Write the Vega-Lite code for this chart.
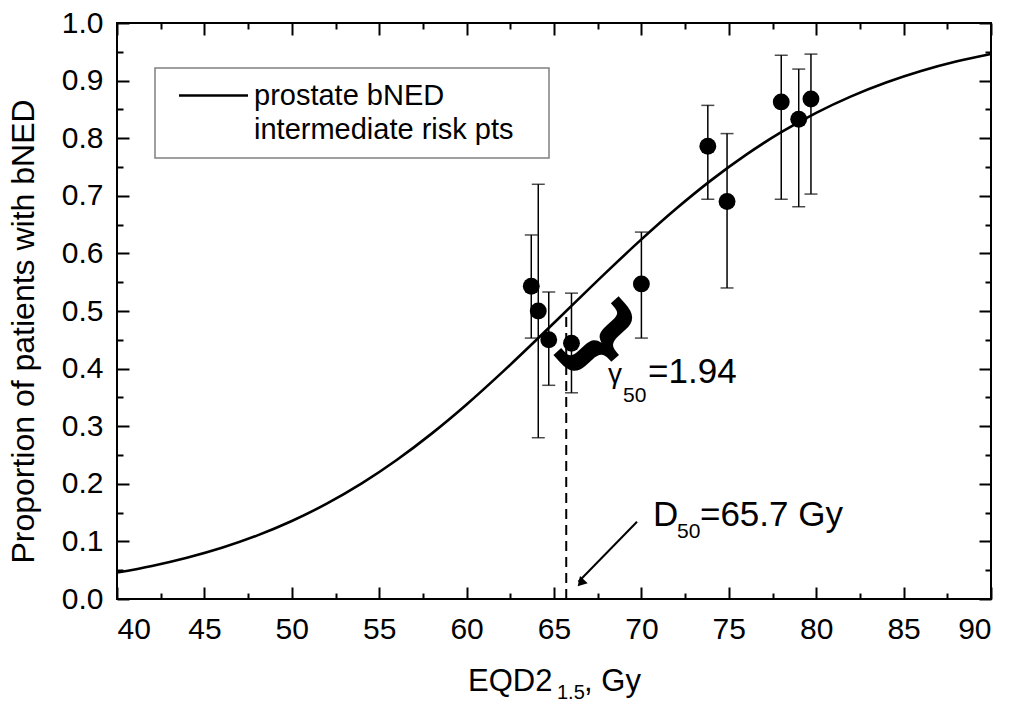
{
  "$schema": "https://vega.github.io/schema/vega-lite/v6.json",
  "width": 874,
  "height": 576,
  "autosize": {"type": "none"},
  "padding": {"left": 117, "top": 23, "right": 20, "bottom": 106},
  "background": "white",
  "config": {
    "view": {"stroke": "black", "strokeWidth": 2},
    "font": "Liberation Sans",
    "axis": {"grid": false, "domain": false, "labelFont": "Liberation Sans", "labelColor": "black", "labelFontSize": 30, "tickColor": "black", "tickWidth": 2, "titleFont": "Liberation Sans", "titleColor": "black", "titleFontWeight": "normal"},
    "text": {"font": "Liberation Sans", "color": "black"}
  },
  "datasets": {
    "curve": [
      {"d": 40, "p": 0.0459}, {"d": 42, "p": 0.0574}, {"d": 44, "p": 0.0716}, {"d": 46, "p": 0.0889},
      {"d": 48, "p": 0.1100}, {"d": 50, "p": 0.1354}, {"d": 52, "p": 0.1655}, {"d": 54, "p": 0.2007},
      {"d": 56, "p": 0.2413}, {"d": 58, "p": 0.2871}, {"d": 60, "p": 0.3377}, {"d": 62, "p": 0.3925},
      {"d": 64, "p": 0.4500}, {"d": 66, "p": 0.5089}, {"d": 68, "p": 0.5675}, {"d": 70, "p": 0.6243},
      {"d": 72, "p": 0.6779}, {"d": 74, "p": 0.7272}, {"d": 76, "p": 0.7715}, {"d": 78, "p": 0.8104},
      {"d": 80, "p": 0.8441}, {"d": 82, "p": 0.8727}, {"d": 84, "p": 0.8967}, {"d": 86, "p": 0.9167},
      {"d": 88, "p": 0.9330}, {"d": 90, "p": 0.9463}
    ],
    "obs": [
      {"d": 63.7, "p": 0.543, "lo": 0.453, "hi": 0.632},
      {"d": 64.1, "p": 0.500, "lo": 0.280, "hi": 0.720},
      {"d": 64.7, "p": 0.450, "lo": 0.371, "hi": 0.533},
      {"d": 66.0, "p": 0.444, "lo": 0.358, "hi": 0.531},
      {"d": 70.0, "p": 0.547, "lo": 0.453, "hi": 0.637},
      {"d": 73.8, "p": 0.786, "lo": 0.694, "hi": 0.857},
      {"d": 74.9, "p": 0.690, "lo": 0.540, "hi": 0.808},
      {"d": 78.0, "p": 0.863, "lo": 0.694, "hi": 0.944},
      {"d": 79.0, "p": 0.833, "lo": 0.681, "hi": 0.920},
      {"d": 79.7, "p": 0.868, "lo": 0.703, "hi": 0.946}
    ]
  },
  "resolve": {"axis": {"x": "independent", "y": "independent"}},
  "layer": [
    {
      "data": {"name": "curve"},
      "mark": {"type": "line", "strokeWidth": 2.6, "interpolate": "monotone"},
      "encoding": {
        "x": {"field": "d", "type": "quantitative", "scale": {"domain": [40, 90], "nice": false, "zero": false},
          "axis": {"orient": "bottom", "values": [40, 45, 50, 55, 60, 65, 70, 75, 80, 85, 90], "format": "d", "ticks": false, "tickSize": 0, "labelPadding": 15, "title": null}},
        "y": {"field": "p", "type": "quantitative", "scale": {"domain": [0, 1], "nice": false, "zero": false},
          "axis": {"orient": "left", "values": [0, 0.1, 0.2, 0.3, 0.4, 0.5, 0.6, 0.7, 0.8, 0.9, 1.0], "format": ".1f", "ticks": false, "tickSize": 0, "labelPadding": 14,
            "title": "Proportion of patients with bNED", "titleFontSize": 32, "titleAngle": -90, "titleX": -84, "titleY": 308, "titleAlign": "center", "titleBaseline": "alphabetic"}},
        "color": {"datum": "prostate bNED", "type": "nominal",
          "scale": {"domain": ["prostate bNED", "intermediate risk pts"], "range": ["black", "black"]},
          "legend": {"orient": "none", "legendX": 38, "legendY": 45, "direction": "vertical",
            "title": ".", "titleOrient": "right", "titleColor": "white", "titleFontSize": 10, "titlePadding": 20,
            "padding": 13, "strokeColor": "#808080", "fillColor": "white",
            "symbolType": "M-1,0H5", "symbolSize": 529, "symbolStrokeWidth": 2.6, "symbolOffset": 8,
            "labelFont": "Liberation Sans", "labelFontSize": 29, "labelColor": "black", "labelOffset": 49, "labelLimit": 0, "rowPadding": 4,
            "encode": {
              "symbols": {"update": {"opacity": {"signal": "datum.value === 'intermediate risk pts' ? 0 : 1"}}},
              "legend": {"update": {"strokeWidth": {"value": 1.5}}}
            }}}
      }
    },
    {
      "data": {"name": "obs"},
      "mark": {"type": "rule", "strokeWidth": 1.5, "color": "black"},
      "encoding": {
        "x": {"field": "d", "type": "quantitative", "scale": {"domain": [40, 90], "nice": false, "zero": false},
          "axis": {"orient": "bottom", "values": [40, 45, 50, 55, 60, 65, 70, 75, 80, 85, 90], "labels": false, "tickSize": -12, "title": null}},
        "y": {"field": "lo", "type": "quantitative", "scale": {"domain": [0, 1], "nice": false, "zero": false},
          "axis": {"orient": "left", "values": [0, 0.1, 0.2, 0.3, 0.4, 0.5, 0.6, 0.7, 0.8, 0.9, 1.0], "labels": false, "tickSize": -12, "title": null}},
        "y2": {"field": "hi"}
      }
    },
    {
      "data": {"name": "obs"},
      "mark": {"type": "tick", "orient": "horizontal", "size": 13, "thickness": 1.5, "color": "black"},
      "encoding": {
        "x": {"field": "d", "type": "quantitative", "scale": {"domain": [40, 90], "nice": false, "zero": false},
          "axis": {"orient": "bottom", "values": [42.5, 47.5, 52.5, 57.5, 62.5, 67.5, 72.5, 77.5, 82.5, 87.5], "labels": false, "tickSize": -6, "title": null}},
        "y": {"field": "lo", "type": "quantitative", "scale": {"domain": [0, 1], "nice": false, "zero": false},
          "axis": {"orient": "left", "values": [0.05, 0.15, 0.25, 0.35, 0.45, 0.55, 0.65, 0.75, 0.85, 0.95], "labels": false, "tickSize": -6, "title": null}}
      }
    },
    {
      "data": {"name": "obs"},
      "mark": {"type": "tick", "orient": "horizontal", "size": 13, "thickness": 1.5, "color": "black"},
      "encoding": {
        "x": {"field": "d", "type": "quantitative", "scale": {"domain": [40, 90], "nice": false, "zero": false},
          "axis": {"orient": "top", "values": [40, 45, 50, 55, 60, 65, 70, 75, 80, 85, 90], "labels": false, "tickSize": -12, "title": null}},
        "y": {"field": "hi", "type": "quantitative", "scale": {"domain": [0, 1], "nice": false, "zero": false},
          "axis": {"orient": "right", "values": [0, 0.1, 0.2, 0.3, 0.4, 0.5, 0.6, 0.7, 0.8, 0.9, 1.0], "labels": false, "tickSize": -12, "title": null}}
      }
    },
    {
      "data": {"name": "obs"},
      "mark": {"type": "circle", "size": 285, "color": "black", "opacity": 1},
      "encoding": {
        "x": {"field": "d", "type": "quantitative", "scale": {"domain": [40, 90], "nice": false, "zero": false},
          "axis": {"orient": "top", "values": [42.5, 47.5, 52.5, 57.5, 62.5, 67.5, 72.5, 77.5, 82.5, 87.5], "labels": false, "tickSize": -6, "title": null}},
        "y": {"field": "p", "type": "quantitative", "scale": {"domain": [0, 1], "nice": false, "zero": false},
          "axis": {"orient": "right", "values": [0.05, 0.15, 0.25, 0.35, 0.45, 0.55, 0.65, 0.75, 0.85, 0.95], "labels": false, "tickSize": -6, "title": null}}
      }
    },
    {
      "data": {"values": [{}]},
      "mark": {"type": "rule", "strokeDash": [10, 6], "strokeWidth": 2, "color": "black"},
      "encoding": {
        "x": {"datum": 65.7, "type": "quantitative", "axis": null},
        "y": {"datum": 0, "type": "quantitative", "axis": null},
        "y2": {"datum": 0.5}
      }
    },
    {
      "data": {"values": [{}]},
      "mark": {"type": "rule", "strokeWidth": 2, "color": "black"},
      "encoding": {
        "x": {"datum": 69.75, "type": "quantitative", "axis": null},
        "y": {"datum": 0.134, "type": "quantitative", "axis": null},
        "x2": {"datum": 66.4},
        "y2": {"datum": 0.03}
      }
    },
    {
      "data": {"values": [{}]},
      "mark": {"type": "point", "shape": "triangle-up", "filled": true, "size": 110, "angle": 223, "color": "black", "opacity": 1},
      "encoding": {
        "x": {"datum": 66.53, "type": "quantitative", "axis": null},
        "y": {"datum": 0.028, "type": "quantitative", "axis": null}
      }
    },
    {
      "data": {"values": [{}]},
      "mark": {"type": "text", "text": "}", "font": "DejaVu Sans", "fontSize": 95, "fontWeight": "bold", "angle": 48, "align": "center", "baseline": "middle"},
      "encoding": {
        "x": {"datum": 67.7, "type": "quantitative", "axis": null},
        "y": {"datum": 0.447, "type": "quantitative", "axis": null}
      }
    },
    {
      "data": {"values": [{}]},
      "mark": {"type": "text", "text": "D", "fontSize": 35, "align": "left", "baseline": "alphabetic"},
      "encoding": {
        "x": {"datum": 70.66, "type": "quantitative", "axis": null},
        "y": {"datum": 0.1267, "type": "quantitative", "axis": null}
      }
    },
    {
      "data": {"values": [{}]},
      "mark": {"type": "text", "text": "50", "fontSize": 21, "align": "left", "baseline": "alphabetic"},
      "encoding": {
        "x": {"datum": 72.04, "type": "quantitative", "axis": null},
        "y": {"datum": 0.106, "type": "quantitative", "axis": null}
      }
    },
    {
      "data": {"values": [{}]},
      "mark": {"type": "text", "text": "=65.7 Gy", "fontSize": 35, "align": "left", "baseline": "alphabetic"},
      "encoding": {
        "x": {"datum": 73.35, "type": "quantitative", "axis": null},
        "y": {"datum": 0.1267, "type": "quantitative", "axis": null}
      }
    },
    {
      "data": {"values": [{}]},
      "mark": {"type": "text", "text": "γ", "fontSize": 28, "align": "left", "baseline": "alphabetic"},
      "encoding": {
        "x": {"datum": 68.09, "type": "quantitative", "axis": null},
        "y": {"datum": 0.375, "type": "quantitative", "axis": null}
      }
    },
    {
      "data": {"values": [{}]},
      "mark": {"type": "text", "text": "50", "fontSize": 21, "align": "left", "baseline": "alphabetic"},
      "encoding": {
        "x": {"datum": 68.95, "type": "quantitative", "axis": null},
        "y": {"datum": 0.342, "type": "quantitative", "axis": null}
      }
    },
    {
      "data": {"values": [{}]},
      "mark": {"type": "text", "text": "=1.94", "fontSize": 35, "align": "left", "baseline": "alphabetic"},
      "encoding": {
        "x": {"datum": 70.38, "type": "quantitative", "axis": null},
        "y": {"datum": 0.375, "type": "quantitative", "axis": null}
      }
    },
    {
      "data": {"values": [{}]},
      "mark": {"type": "text", "text": "EQD2", "fontSize": 31, "align": "left", "baseline": "alphabetic"},
      "encoding": {
        "x": {"datum": 60.08, "type": "quantitative", "axis": null},
        "y": {"datum": -0.1597, "type": "quantitative", "axis": null}
      }
    },
    {
      "data": {"values": [{}]},
      "mark": {"type": "text", "text": "1.5", "fontSize": 20, "align": "left", "baseline": "alphabetic"},
      "encoding": {
        "x": {"datum": 65.17, "type": "quantitative", "axis": null},
        "y": {"datum": -0.1736, "type": "quantitative", "axis": null}
      }
    },
    {
      "data": {"values": [{}]},
      "mark": {"type": "text", "text": ", Gy", "fontSize": 31, "align": "left", "baseline": "alphabetic"},
      "encoding": {
        "x": {"datum": 66.72, "type": "quantitative", "axis": null},
        "y": {"datum": -0.1597, "type": "quantitative", "axis": null}
      }
    }
  ]
}
